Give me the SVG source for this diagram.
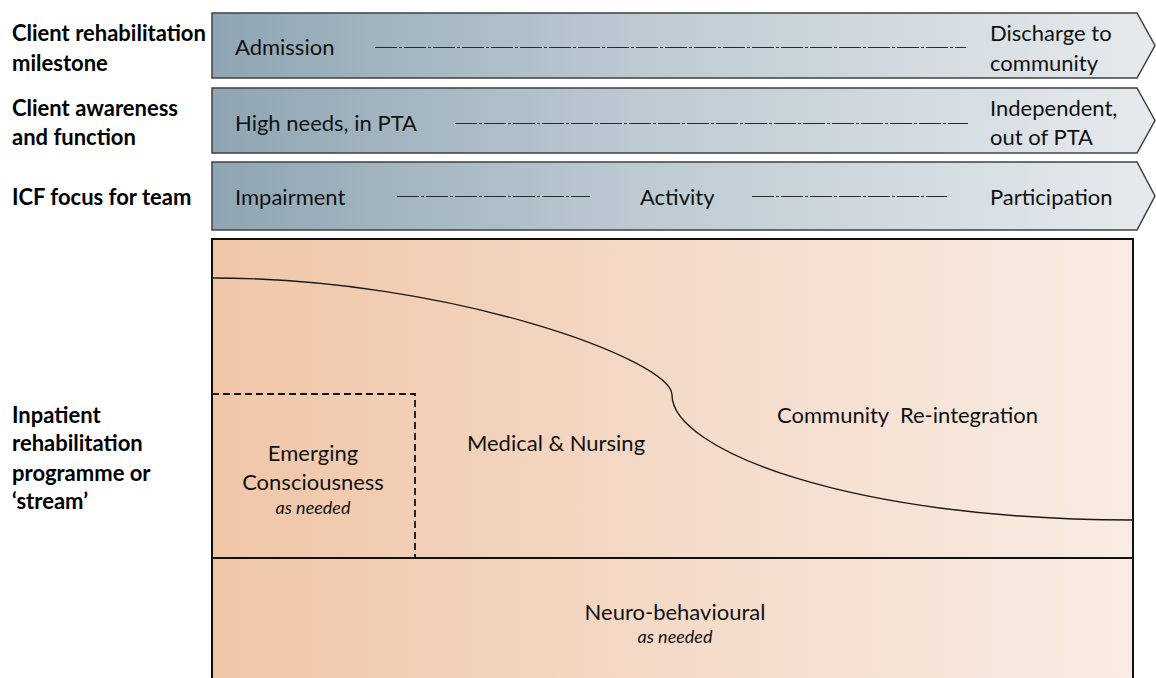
<svg xmlns="http://www.w3.org/2000/svg" width="1156" height="678" viewBox="0 0 1156 678">
  <defs>
    <linearGradient id="slate" x1="0" y1="0" x2="1" y2="0">
      <stop offset="0" stop-color="#8fa5b3"/>
      <stop offset="0.45" stop-color="#bccad2"/>
      <stop offset="1" stop-color="#e6eaed"/>
    </linearGradient>
    <linearGradient id="peach" x1="0" y1="0" x2="1" y2="0">
      <stop offset="0" stop-color="#f0c6a7"/>
      <stop offset="0.5" stop-color="#f4dac8"/>
      <stop offset="1" stop-color="#f9ece4"/>
    </linearGradient>
    <style>
      .lbl { font-family: Lato, "Open Sans", sans-serif; font-weight: bold; font-size: 22px; fill: #000; }
      .txt { font-family: Lato, "Open Sans", sans-serif; font-size: 22px; fill: #111; }
      .sm { font-family: Lato, "Open Sans", sans-serif; font-size: 18px; font-style: italic; fill: #111; }
      .chev { fill: url(#slate); stroke: #404040; stroke-width: 1.5; }
      .dash { stroke: #2a2a2a; stroke-width: 1; stroke-dasharray: 22 2 3 2; fill: none; }
    </style>
  </defs>

  <rect width="1156" height="678" fill="#ffffff"/>

  <!-- row labels -->
  <g id="row-labels">
    <text class="lbl" x="12" y="41">Client rehabilitation</text>
    <text class="lbl" x="12" y="71">milestone</text>
    <text class="lbl" x="12" y="116">Client awareness</text>
    <text class="lbl" x="12" y="145">and function</text>
    <text class="lbl" x="12" y="205">ICF focus for team</text>
    <text class="lbl" x="12" y="423">Inpatient</text>
    <text class="lbl" x="12" y="451">rehabilitation</text>
    <text class="lbl" x="12" y="481">programme or</text>
    <text class="lbl" x="12" y="509">‘stream’</text>
  </g>

  <!-- milestone chevron -->
  <g id="milestone">
    <polygon class="chev" points="212,13 1137,13 1155,45.5 1137,78 212,78"/>
    <text class="txt" x="235" y="55">Admission</text>
    <text class="txt" x="990" y="41">Discharge to</text>
    <text class="txt" x="990" y="71">community</text>
  </g>

  <!-- awareness chevron -->
  <g id="awareness">
    <polygon class="chev" points="212,88 1137,88 1155,120.5 1137,153 212,153"/>
    <text class="txt" x="235" y="131">High needs, in PTA</text>
    <text class="txt" x="990" y="116">Independent,</text>
    <text class="txt" x="990" y="145">out of PTA</text>
  </g>

  <!-- ICF chevron -->
  <g id="icf">
    <polygon class="chev" points="212,162 1137,162 1155,196 1137,230 212,230"/>
    <text class="txt" x="235" y="205">Impairment</text>
    <text class="txt" x="640" y="205">Activity</text>
    <text class="txt" x="990" y="205">Participation</text>
  </g>

  <!-- progression lines inside chevrons -->
  <g id="connectors">
    <line class="dash" x1="375" y1="47.5" x2="966" y2="47.5"/>
    <line class="dash" x1="455" y1="123.5" x2="968" y2="123.5"/>
    <line class="dash" x1="397" y1="196.5" x2="590" y2="196.5"/>
    <line class="dash" x1="752" y1="196.5" x2="947" y2="196.5"/>
  </g>

  <!-- programme streams -->
  <g id="streams">
    <rect x="212" y="239" width="921" height="460" fill="url(#peach)" stroke="#111" stroke-width="2"/>
    <line x1="212" y1="558" x2="1133" y2="558" stroke="#111" stroke-width="2"/>
    <path d="M212,278 C450,278 672,360 672,395 C672,450 850,520 1133,520" fill="none" stroke="#1a1a1a" stroke-width="1.4"/>
  </g>

  <g id="emerging">
    <path d="M212,394 H415 V558" fill="none" stroke="#111" stroke-width="1.8" stroke-dasharray="7 4"/>
    <text class="txt" x="313" y="461" text-anchor="middle">Emerging</text>
    <text class="txt" x="313" y="490" text-anchor="middle">Consciousness</text>
    <text class="sm" x="313" y="514" text-anchor="middle">as needed</text>
  </g>

  <g id="medical">
    <text class="txt" x="556" y="451" text-anchor="middle">Medical &amp; Nursing</text>
  </g>

  <g id="community">
    <text class="txt" x="777" y="423" xml:space="preserve">Community  Re-integration</text>
  </g>

  <g id="neuro">
    <text class="txt" x="675" y="620" text-anchor="middle">Neuro-behavioural</text>
    <text class="sm" x="675" y="643" text-anchor="middle">as needed</text>
  </g>
</svg>
